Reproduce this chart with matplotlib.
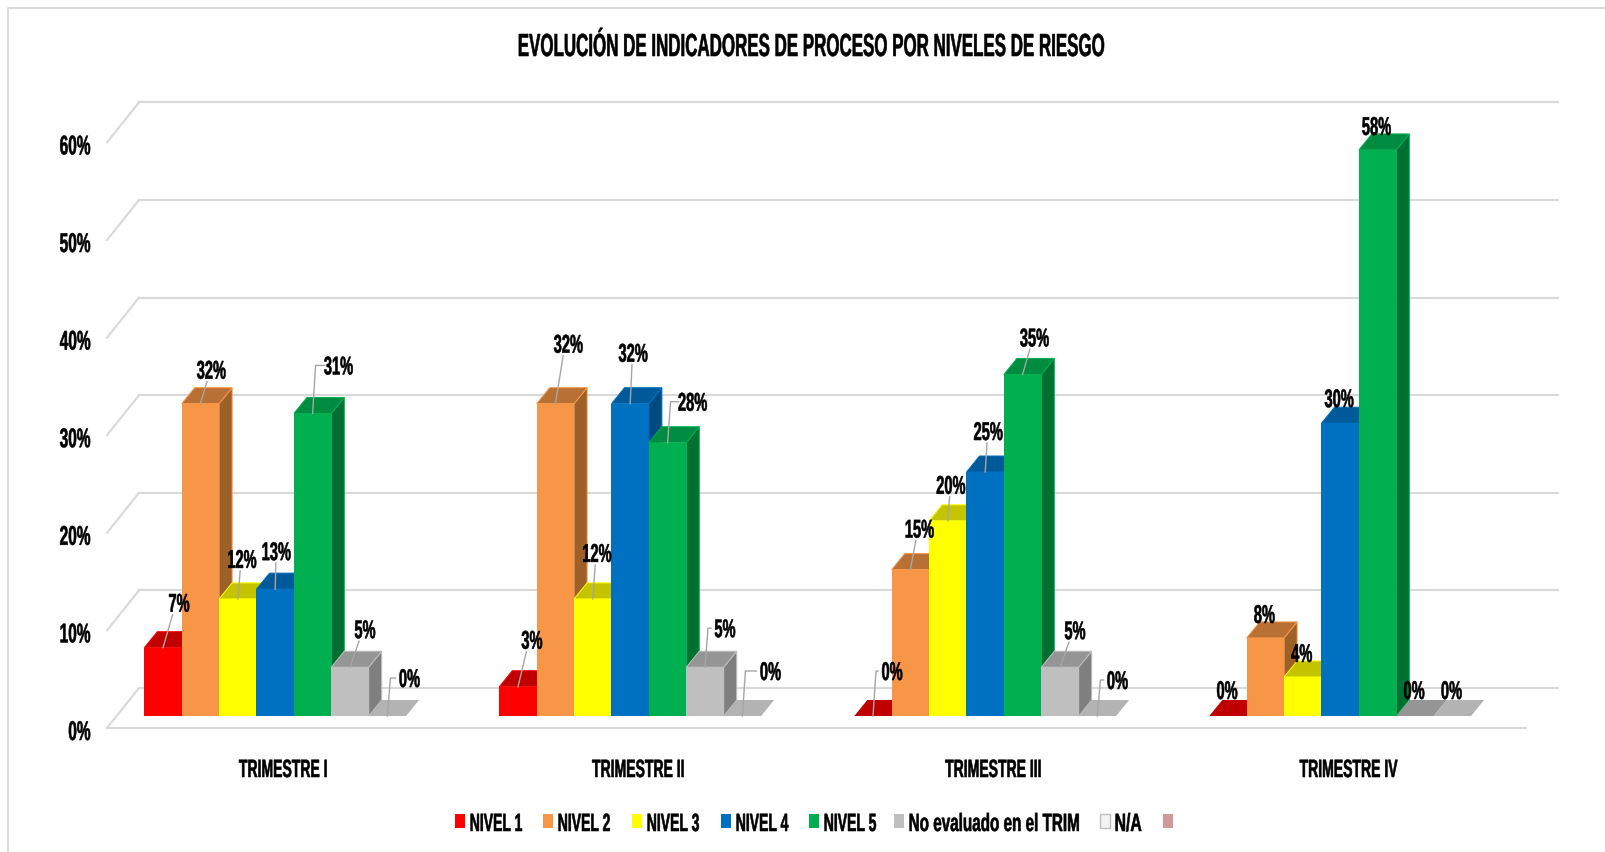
#!python3

"""
Evolucion de indicadores de proceso por niveles de riesgo - fake 3D bars.
"""

import matplotlib
matplotlib.use("Agg")
import matplotlib.pyplot as plt
from matplotlib.patches import Polygon, Rectangle
from matplotlib.lines import Line2D
from matplotlib.patheffects import AbstractPathEffect
from matplotlib.transforms import Affine2D

plt.rcParams['font.family'] = ['Liberation Sans', 'DejaVu Sans']

TITLE = "EVOLUCIÓN DE INDICADORES DE PROCESO POR NIVELES DE RIESGO"
trimestres = ["TRIMESTRE I", "TRIMESTRE II", "TRIMESTRE III", "TRIMESTRE IV"]
series = ["NIVEL 1", "NIVEL 2", "NIVEL 3", "NIVEL 4", "NIVEL 5", "No evaluado en el TRIM", "N/A", ""]
yTicks = [0, 10, 20, 30, 40, 50, 60]

trim1 = [7, 32, 12, 13, 31, 5, 0]
trim2 = [3, 32, 12, 32, 28, 5, 0]
trim3 = [0, 15, 20, 25, 35, 5, 0]
trim4 = [0, 8, 4, 30, 58, 0, 0]
values = [trim1, trim2, trim3, trim4]

# front, top, side
COLORS = [
	("#FF0000", "#C00000", "#A00000"),
	("#F79646", "#B97035", "#9E6029"),
	("#FFFF00", "#C4C400", "#A0A000"),
	("#0070C0", "#005A9A", "#004A80"),
	("#00B050", "#008C40", "#006F32"),
	("#BFBFBF", "#959595", "#7F7F7F"),
	("#BFBFBF", "#B3B3B3", "#A0A0A0"),
]
LEGEND_COLORS = ["#FF0000", "#F79646", "#FFFF00", "#0070C0", "#00B050", "#BFBFBF", "#F2F2F2", "#D09A9A"]
legendX = [455, 543, 632, 721, 809, 894, 1100, 1163]
legendSqueeze = [0.56, 0.56, 0.56, 0.56, 0.56, 0.61, 0.63, 0.6]

# label offset from the top centre of the bar, in pixels (x, up)
labelOffsets = [
	[(16, 45), (11, 34), (4, 40), (1, 38), (26, 48), (15, 38), (22, 38)],
	[(14, 47), (13, 60), (4, 46), (3, 51), (25, 41), (20, 39), (28, 45)],
	[(19, 45), (9, 41), (3, 36), (3, 41), (12, 37), (15, 37), (20, 36)],
	[(-1, 26), (-1, 24), (-1, 24), (-1, 25), (-1, 24), (-1, 26), (-1, 26)],
]

W, H = 1606, 853
PX = 9.76  # pixels per percent point
BASE_Y = 717  # pixel row of the zero of the bars
X0 = 144.3
GROUP_STEP = 355
BAR_W = 37.4
DX = 13
DY = 16 / PX
FLOOR_LEFT, FLOOR_RIGHT = 107, 1526
WALL_LEFT, WALL_RIGHT = 139, 1558
BACK_LIFT = (BASE_Y - 689) / PX
FRONT_DROP = (729 - BASE_Y) / PX
GRID = "#D9D9D9"
SQUEEZE = 0.57


class Condense(AbstractPathEffect):
	"""The chart font is a narrow one that is not installed, so squeeze the glyphs."""
	def __init__(self, sx=SQUEEZE, anchor="center"):
		super().__init__()
		self.sx = sx
		self.anchor = anchor

	def draw_path(self, renderer, gc, tpath, affine, rgbFace=None):
		box = affine.transform_path(tpath).get_extents()
		ax_ = {"center": (box.x0 + box.x1) / 2, "left": box.x0, "right": box.x1}[self.anchor]
		squeeze = Affine2D().translate(-ax_, 0).scale(self.sx, 1).translate(ax_, 0)
		# a thin outline keeps the stems as heavy as they were before squeezing
		gc0 = renderer.new_gc()
		gc0.copy_properties(gc)
		gc0.set_linewidth(0.4)
		gc0.set_foreground("black")
		renderer.draw_path(gc0, tpath, affine + squeeze, rgbFace)
		gc0.restore()


def yRow(row):
	return (BASE_Y - row) / PX


fig = plt.figure(figsize=(W / 100, H / 100), dpi=100)
ax = fig.add_axes([0, 0, 1, 1])
ax.set_xlim(0, W)
ax.set_ylim(yRow(H), yRow(0))
ax.axis("off")

# chart frame
ax.add_line(Line2D([8.5, 8.5, W], [yRow(H), yRow(9), yRow(9)], color=GRID, lw=1.3))

# walls and floor
for t in yTicks:
	ax.plot([FLOOR_LEFT, WALL_LEFT], [t - FRONT_DROP, t + BACK_LIFT], color=GRID, lw=1.5, zorder=1)
	ax.plot([WALL_LEFT, WALL_RIGHT], [t + BACK_LIFT, t + BACK_LIFT], color=GRID, lw=1.5, zorder=1)
	ax.text(91, t - FRONT_DROP - 5 / PX, "{}%".format(t), ha="right", va="center", fontsize=19.5, fontweight="bold",
		color="black", path_effects=[Condense(anchor="right")])
ax.plot([FLOOR_LEFT, FLOOR_RIGHT], [-FRONT_DROP, -FRONT_DROP], color=GRID, lw=1.5, zorder=1)

z = 2
for g, groupValues in enumerate(values):
	groupLeft = X0 + g * GROUP_STEP
	for b, v in enumerate(groupValues):
		left = groupLeft + b * BAR_W
		right = left + BAR_W
		front, top, side = COLORS[b]
		if v == 0 and g == 3 and b == 5:
			top = "#959595"
		edge = front if v > 0 else "none"
		ax.add_patch(Polygon([(right, 0), (right + DX, DY), (right + DX, v + DY), (right, v)], closed=True, fc=side, ec=edge, lw=0.7, zorder=z))
		ax.add_patch(Polygon([(left, v), (left + DX, v + DY), (right + DX, v + DY), (right, v)], closed=True, fc=top, ec=edge, lw=0.7, zorder=z))
		if v > 0:
			ax.add_patch(Rectangle((left, 0), BAR_W, v, fc=front, ec="none", zorder=z))
		z += 1

# data labels go above every bar
for g, groupValues in enumerate(values):
	groupLeft = X0 + g * GROUP_STEP
	for b, v in enumerate(groupValues):
		cx = groupLeft + (b + 0.5) * BAR_W
		ox, oy = labelOffsets[g][b]
		lx, ly = cx + ox, v + oy / PX
		if g < 3:
			if ox >= 19:  # elbow leader
				ax.plot([cx, cx + 3, cx + ox - 14], [v, ly, ly], color="#A6A6A6", lw=1, zorder=100)
			else:
				ax.plot([cx, cx + ox * 0.6], [v, v + (oy - 12) / PX], color="#A6A6A6", lw=1, zorder=100)
		ax.text(lx, ly - 2 / PX, "{}%".format(v), ha="center", va="center", fontsize=18.5, fontweight="bold", color="black",
			zorder=101, path_effects=[Condense()])

for g, name in enumerate(trimestres):
	ax.text(X0 + g * GROUP_STEP + 139, yRow(771), name, ha="center", va="center", fontsize=18, fontweight="bold",
		path_effects=[Condense(sx=0.56)])

ax.text(812, yRow(49), TITLE, ha="center", va="center", fontsize=23, fontweight="bold", path_effects=[Condense(sx=0.53)])

for x, name, c, sx in zip(legendX, series, LEGEND_COLORS, legendSqueeze):
	ax.add_patch(Rectangle((x, yRow(829)), 10, 14 / PX, fc=c, ec="#BFBFBF" if c == "#F2F2F2" else "none", zorder=5))
	ax.text(x + 14, yRow(825), name, ha="left", va="center", fontsize=18, fontweight="bold",
		path_effects=[Condense(sx=sx, anchor="left")])

fig.savefig("out.png", dpi=100)
